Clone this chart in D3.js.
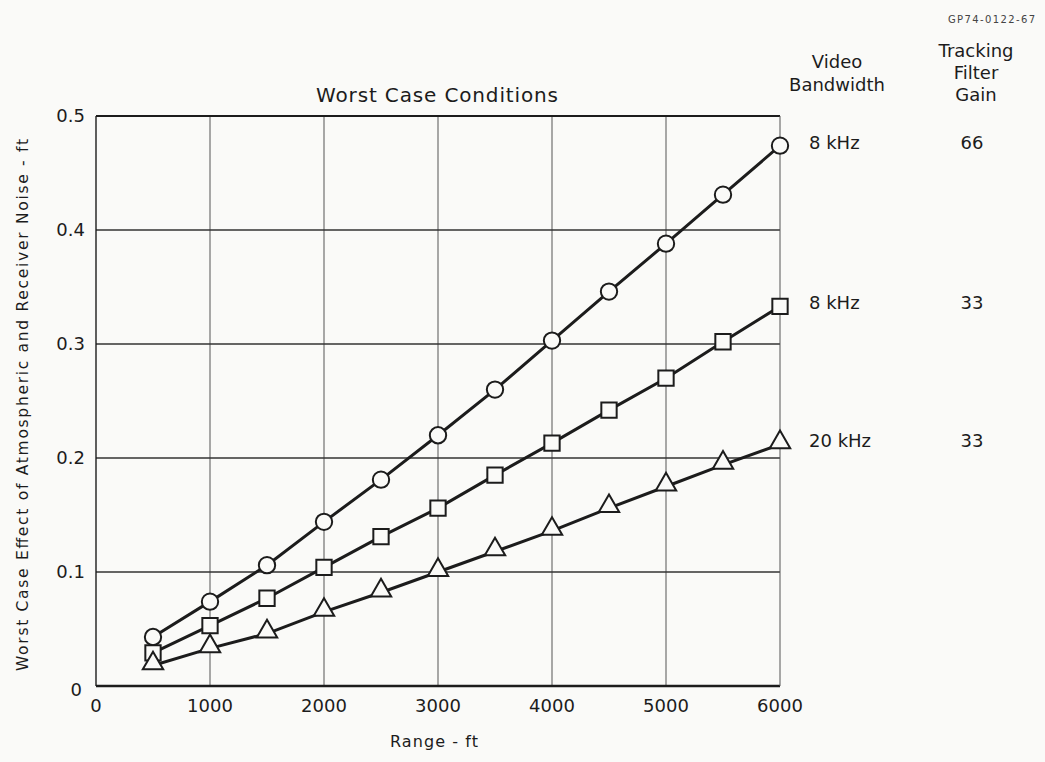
<!DOCTYPE html>
<html>
<head>
<meta charset="utf-8">
<script src="https://cdn.jsdelivr.net/npm/d3@7"></script>
<style>
  body { margin: 0; background: #fafaf8; }
  svg { display: block; font-family: "DejaVu Sans", "Liberation Sans", sans-serif; }
</style>
</head>
<body>
<svg id="chart" width="1045" height="762"></svg>
<script>
// Chart data
const ranges = [500, 1000, 1500, 2000, 2500, 3000, 3500, 4000, 4500, 5000, 5500, 6000];
const gain66_8k  = [0.043, 0.074, 0.106, 0.144, 0.181, 0.220, 0.260, 0.303, 0.346, 0.388, 0.431, 0.474];
const gain33_8k  = [0.029, 0.053, 0.077, 0.104, 0.131, 0.156, 0.185, 0.213, 0.242, 0.270, 0.302, 0.333];
const gain33_20k = [0.018, 0.033, 0.046, 0.065, 0.082, 0.100, 0.118, 0.136, 0.156, 0.175, 0.194, 0.212];
const xTicks = [0, 1000, 2000, 3000, 4000, 5000, 6000];
const yTicks = [0, 0.1, 0.2, 0.3, 0.4, 0.5];
const bandwidths = ["8 kHz", "8 kHz", "20 kHz"];
const gains = ["66", "33", "33"];

const series = [
  { values: gain66_8k, marker: "circle" },
  { values: gain33_8k, marker: "square" },
  { values: gain33_20k, marker: "triangle" }
];

const svg = d3.select("#chart");
const ink = "#1c1c1c";
const paper = "#fafaf8";

const x = d3.scaleLinear().domain([0, 6000]).range([96, 780]);
const y = d3.scaleLinear().domain([0, 0.5]).range([686, 116]);

// grid
const grid = svg.append("g");
grid.selectAll(".vgrid")
  .data(xTicks.slice(1, -1))
  .join("line")
  .attr("x1", d => x(d)).attr("x2", d => x(d))
  .attr("y1", y(0)).attr("y2", y(0.5))
  .attr("stroke", "#555").attr("stroke-width", 1);
grid.selectAll(".hgrid")
  .data(yTicks.slice(1, -1))
  .join("line")
  .attr("x1", x(0)).attr("x2", x(6000))
  .attr("y1", d => y(d)).attr("y2", d => y(d))
  .attr("stroke", "#333").attr("stroke-width", 1.4);

// frame
svg.append("line").attr("x1", x(0)).attr("x2", x(6000)).attr("y1", y(0.5)).attr("y2", y(0.5))
  .attr("stroke", ink).attr("stroke-width", 2);
svg.append("line").attr("x1", x(0)).attr("x2", x(6000)).attr("y1", y(0)).attr("y2", y(0))
  .attr("stroke", ink).attr("stroke-width", 2.4);
svg.append("line").attr("x1", x(0)).attr("x2", x(0)).attr("y1", y(0)).attr("y2", y(0.5))
  .attr("stroke", ink).attr("stroke-width", 1.4);
svg.append("line").attr("x1", x(6000)).attr("x2", x(6000)).attr("y1", y(0)).attr("y2", y(0.5))
  .attr("stroke", "#555").attr("stroke-width", 1);

// tick labels
svg.selectAll(".xlab")
  .data(xTicks)
  .join("text")
  .attr("x", d => x(d))
  .attr("y", 712)
  .attr("text-anchor", "middle")
  .attr("font-size", 18)
  .attr("fill", ink)
  .text(d => d);

svg.selectAll(".ylab")
  .data(yTicks)
  .join("text")
  .attr("x", d => d === 0 ? 82 : 85)
  .attr("y", d => d === 0 ? 696 : y(d) + 6)
  .attr("text-anchor", "end")
  .attr("font-size", 18)
  .attr("fill", ink)
  .text(d => d === 0 ? "0" : d.toFixed(1));

// axis titles
svg.append("text")
  .attr("x", 434).attr("y", 747)
  .attr("text-anchor", "middle")
  .attr("font-size", 16)
  .attr("textLength", 88)
  .attr("lengthAdjust", "spacing")
  .attr("fill", ink)
  .text("Range - ft");

svg.append("text")
  .attr("transform", "translate(28,405) rotate(-90)")
  .attr("text-anchor", "middle")
  .attr("font-size", 15.5)
  .attr("textLength", 532)
  .attr("lengthAdjust", "spacing")
  .attr("fill", ink)
  .text("Worst Case Effect of Atmospheric and Receiver Noise - ft");

svg.append("text")
  .attr("x", 437).attr("y", 102)
  .attr("text-anchor", "middle")
  .attr("font-size", 20)
  .attr("textLength", 242)
  .attr("lengthAdjust", "spacing")
  .attr("fill", ink)
  .text("Worst Case Conditions");

// lines
const line = d3.line()
  .x((d, i) => x(ranges[i]))
  .y(d => y(d));

svg.selectAll(".series")
  .data(series)
  .join("path")
  .attr("d", d => line(d.values))
  .attr("fill", "none")
  .attr("stroke", ink)
  .attr("stroke-width", 3);

// markers
const symbolFor = {
  circle: d3.symbol().type(d3.symbolCircle).size(210),
  square: d3.symbol().type(d3.symbolSquare).size(235),
  triangle: d3.symbol().type(d3.symbolTriangle).size(180)
};

series.forEach(s => {
  svg.append("g")
    .selectAll("path")
    .data(s.values)
    .join("path")
    .attr("transform", (d, i) => `translate(${x(ranges[i])},${y(d) + (s.marker === "triangle" ? -2 : 0)})`)
    .attr("d", symbolFor[s.marker])
    .attr("fill", paper)
    .attr("stroke", ink)
    .attr("stroke-width", 2);
});

// legend table at right
svg.append("text")
  .attr("x", 1035).attr("y", 23)
  .attr("text-anchor", "end")
  .attr("font-size", 10)
  .attr("textLength", 87)
  .attr("lengthAdjust", "spacing")
  .attr("fill", "#444")
  .text("GP74-0122-67");

const headers = [
  { x: 837, lines: ["Video", "Bandwidth"], y0: 68, step: 23 },
  { x: 976, lines: ["Tracking", "Filter", "Gain"], y0: 57, step: 22 }
];
headers.forEach(h => {
  svg.append("g")
    .selectAll("text")
    .data(h.lines)
    .join("text")
    .attr("x", h.x)
    .attr("y", (d, i) => h.y0 + i * h.step)
    .attr("text-anchor", "middle")
    .attr("font-size", 18)
    .attr("fill", ink)
    .text(d => d);
});

const lastVals = series.map(s => s.values[s.values.length - 1]);
svg.selectAll(".bw")
  .data(bandwidths)
  .join("text")
  .attr("x", 809)
  .attr("y", (d, i) => y(lastVals[i]) + 3)
  .attr("font-size", 18)
  .attr("fill", ink)
  .text(d => d);

svg.selectAll(".gain")
  .data(gains)
  .join("text")
  .attr("x", 972)
  .attr("y", (d, i) => y(lastVals[i]) + 3)
  .attr("text-anchor", "middle")
  .attr("font-size", 18)
  .attr("fill", ink)
  .text(d => d);
</script>
</body>
</html>
